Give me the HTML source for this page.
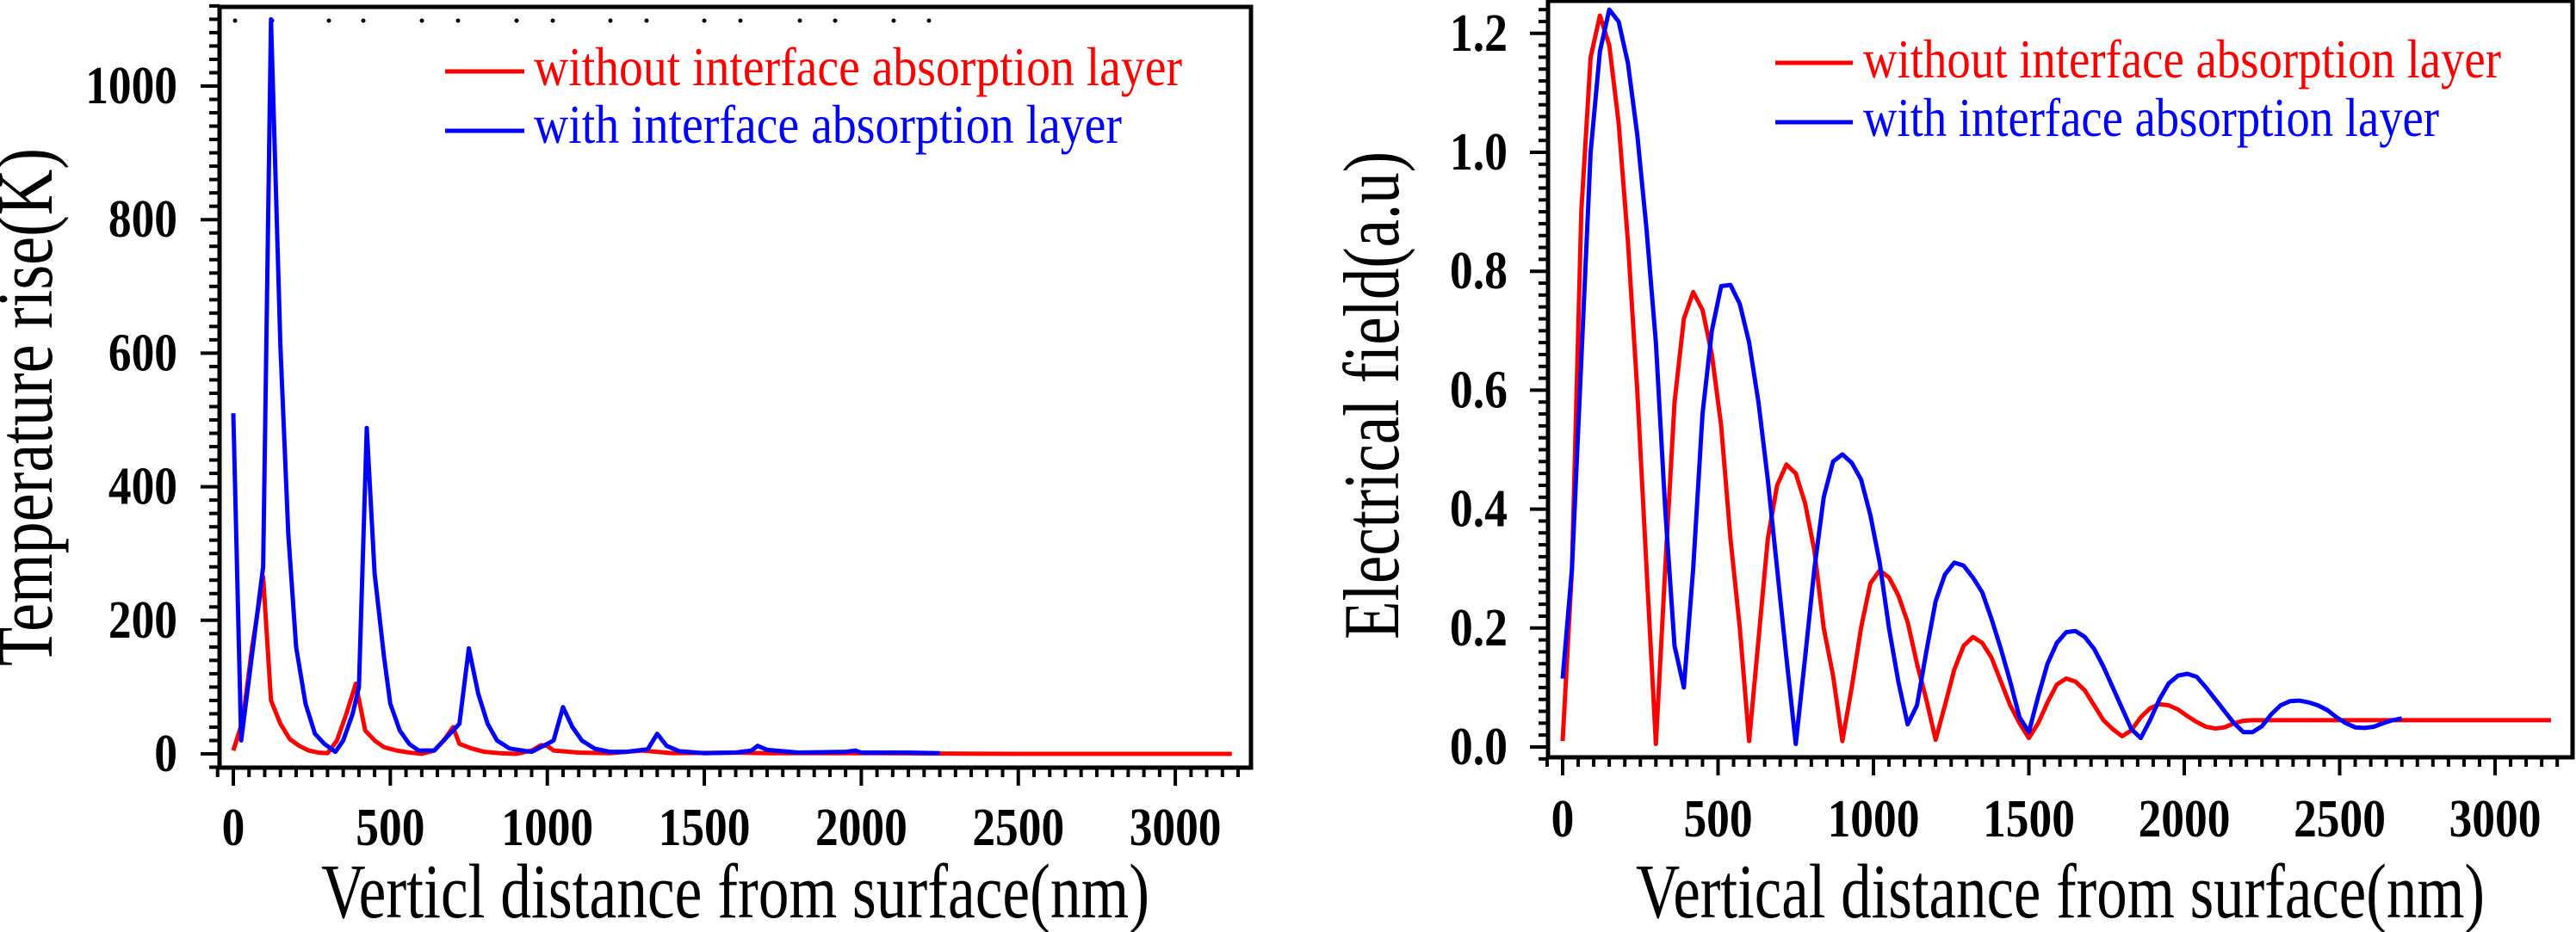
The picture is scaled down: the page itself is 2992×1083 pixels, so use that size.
<!DOCTYPE html>
<html><head><meta charset="utf-8"><style>
html,body{margin:0;padding:0;background:#fff;}
svg{display:block;}
text{font-family:"Liberation Serif",serif;}
</style></head><body>
<svg id="fig" width="2992" height="1083" viewBox="0 0 2992 1083" xmlns="http://www.w3.org/2000/svg">
<g id="left"></g>
<g id="right"></g>
</svg>
<script>
// ---- Left chart data ----
const tX_red = [0,30,60,95,120,150,180,210,240,270,300,330,360,390,420,450,480,520,560,600,640,670,700,720,760,800,850,900,950,980,1000,1020,1100,1200,1280,1300,1400,1600,1700,2000,2500,3000,3180];
const tY_red = [5,50,160,265,80,45,22,12,5,2,1,20,60,105,35,20,10,5,2,0,5,20,40,15,8,3,1,0,5,13,12,5,2,1,4,5,1,2,1,1,0,0,0];
const tX_blue = [0,25,60,95,120,150,175,200,230,260,290,325,350,380,400,425,450,480,500,530,560,590,640,690,720,750,780,810,840,880,950,1000,1020,1050,1080,1110,1150,1200,1250,1320,1350,1380,1420,1500,1600,1650,1670,1700,1800,1950,1980,2000,2150,2250];
const tY_blue = [510,20,150,280,1100,610,330,160,75,30,15,3,20,60,100,488,270,145,75,35,15,5,5,30,45,158,90,45,20,8,3,15,20,70,40,20,8,3,3,7,30,12,4,1,2,5,12,6,2,3,5,2,2,1];
const tXTicks = [0,500,1000,1500,2000,2500,3000];
const tYTicks = [0,200,400,600,800,1000];

// ---- Right chart data ----
const eX = [0,30,60,90,120,150,180,210,240,270,300,330,360,390,420,450,480,510,540,570,600,630,660,690,720,750,780,810,840,870,900,930,960,990,1020,1050,1080,1110,1140,1170,1200,1230,1260,1290,1320,1350,1380,1410,1440,1470,1500,1530,1560,1590,1620,1650,1680,1710,1740,1770,1800,1830,1860,1890,1920,1950,1980,2010,2040,2070,2100,2130,2160,2190,2220,2250,2280,2310,2340,2370,2400,2430,2460,2490,2520,2550,2580,2610,2640,2670,2700];
const eY_red = [0.01,0.3,0.9,1.16,1.23,1.18,1.05,0.85,0.6,0.3,0.005,0.3,0.58,0.72,0.765,0.735,0.66,0.54,0.35,0.2,0.01,0.18,0.35,0.44,0.475,0.46,0.41,0.33,0.2,0.12,0.01,0.1,0.2,0.275,0.297,0.285,0.255,0.21,0.14,0.08,0.012,0.07,0.13,0.17,0.185,0.175,0.15,0.11,0.07,0.04,0.015,0.04,0.075,0.105,0.115,0.11,0.095,0.07,0.045,0.03,0.018,0.028,0.05,0.065,0.072,0.07,0.063,0.052,0.042,0.034,0.031,0.033,0.04,0.044,0.045,0.045,0.045,0.045,0.045,0.045,0.045,0.045,0.045,0.045,0.045,0.045,0.045,0.045,0.045,0.045,0.045];
const eRedTailX = [3180];
const eRedTailY = [0.045];
const eY_blue = [0.115,0.3,0.65,1.0,1.17,1.24,1.22,1.15,1.03,0.87,0.68,0.4,0.17,0.1,0.3,0.56,0.7,0.775,0.777,0.745,0.68,0.58,0.45,0.3,0.15,0.005,0.15,0.3,0.42,0.48,0.492,0.478,0.45,0.39,0.31,0.2,0.11,0.038,0.07,0.16,0.245,0.29,0.31,0.305,0.285,0.26,0.215,0.165,0.11,0.05,0.025,0.085,0.14,0.175,0.193,0.195,0.185,0.165,0.135,0.1,0.065,0.03,0.015,0.045,0.08,0.107,0.12,0.123,0.118,0.1,0.08,0.06,0.04,0.025,0.025,0.035,0.055,0.07,0.077,0.078,0.075,0.07,0.062,0.05,0.04,0.033,0.032,0.034,0.04,0.045,0.048];
const eXTicks = [0,500,1000,1500,2000,2500,3000];
const eYTicks = ["0.0","0.2","0.4","0.6","0.8","1.0","1.2"];

const NS = "http://www.w3.org/2000/svg";
function mk(parent, tag, attrs){
  const el = document.createElementNS(NS, tag);
  for (const k in attrs) el.setAttribute(k, attrs[k]);
  parent.appendChild(el);
  return el;
}
const TF = 62; // tick font size
function tw(s){ return s.length*26.7 - (s.indexOf('.')>=0 ? 13 : 0); }

// ===== LEFT =====
(function(){
  const g = document.getElementById('left');
  const X = v => 271 + v*0.3647;
  const Y = v => 876 - v*0.776;
  const L=255, R=1453, T=8, B=892;
  const fr = mk(g,'rect',{x:L,y:T,width:R-L,height:B-T,fill:'none',stroke:'#000','stroke-width':5});
  
  
  for (let v=-20; v<=1120; v+=20){
    const major = v%200===0 && v>=0 && v<=1000;
    const t = mk(g,'line',{x1:major?233:243,x2:L,y1:Y(v),y2:Y(v),stroke:'#000','stroke-width':4});
    
    
  }
  tYTicks.forEach(v=>{
    const s=String(v);
    const t = mk(g,'text',{x:206,y:Y(v)+20,'text-anchor':'end','font-size':TF,'font-weight':'bold',textLength:tw(s),lengthAdjust:'spacingAndGlyphs'});
    t.textContent = s;
    
    
  });
  for (let v=-50; v<=3200; v+=50){
    const major = v%500===0 && v>=0;
    const t = mk(g,'line',{x1:X(v),x2:X(v),y1:B,y2:major?913:903,stroke:'#000','stroke-width':4});
    
    
  }
  tXTicks.forEach(v=>{
    const s=String(v);
    const t = mk(g,'text',{x:X(v),y:982,'text-anchor':'middle','font-size':TF,'font-weight':'bold',textLength:tw(s),lengthAdjust:'spacingAndGlyphs'});
    t.textContent = s;
    
    
  });
  [273,316,382,422,490,532,600,642,709,751,818,860,929,970,1038,1079].forEach(x=>{
    const d = mk(g,'circle',{cx:x,cy:24,r:2.5,fill:'#000'});
    
    
  });
  const red = mk(g,'polyline',{points:tX_red.map((x,i)=>X(x)+','+Y(tY_red[i])).join(' '),fill:'none',stroke:'#f00','stroke-width':5,'stroke-linejoin':'round'});
  
  
  const blue = mk(g,'polyline',{points:tX_blue.map((x,i)=>X(x)+','+Y(tY_blue[i])).join(' '),fill:'none',stroke:'#00f','stroke-width':5,'stroke-linejoin':'round'});
  
  
  const l1 = mk(g,'line',{x1:517,x2:609,y1:83,y2:83,stroke:'#f00','stroke-width':5});
  
  
  const t1 = mk(g,'text',{x:620,y:99,'font-size':64,fill:'#f00',textLength:753,lengthAdjust:'spacingAndGlyphs'});
  t1.textContent='without interface absorption layer';
  
  
  const l2 = mk(g,'line',{x1:517,x2:609,y1:152,y2:152,stroke:'#00f','stroke-width':5});
  
  
  const t2 = mk(g,'text',{x:620,y:166,'font-size':64,fill:'#00f',textLength:683,lengthAdjust:'spacingAndGlyphs'});
  t2.textContent='with interface absorption layer';
  
  
  const xt = mk(g,'text',{x:373,y:1066,'font-size':90,textLength:962,lengthAdjust:'spacingAndGlyphs'});
  xt.textContent='Verticl distance from surface(nm)';
  
  
  const yt = mk(g,'text',{x:0,y:0,'font-size':92,textLength:602,lengthAdjust:'spacingAndGlyphs',transform:'translate(60,774) rotate(-90)'});
  yt.textContent='Temperature rise(K)';
  
  
})();

// ===== RIGHT =====
(function(){
  const g = document.getElementById('right');
  const X = v => 1815 + v*0.361;
  const Y = v => 868 - v*691;
  const L=1798, R=2988, T=1, B=880;
  const fr = mk(g,'rect',{x:L,y:T,width:R-L,height:B-T,fill:'none',stroke:'#000','stroke-width':5});
  
  
  for (let i=-1; i<=62; i++){
    const v=i*0.02;
    const major = i%10===0 && i>=0 && i<=60;
    const t = mk(g,'line',{x1:major?1777:1787,x2:L,y1:Y(v),y2:Y(v),stroke:'#000','stroke-width':4});
    
    
  }
  eYTicks.forEach(s=>{
    const t = mk(g,'text',{x:1751,y:Y(parseFloat(s))+20,'text-anchor':'end','font-size':TF,'font-weight':'bold',textLength:tw(s),lengthAdjust:'spacingAndGlyphs'});
    t.textContent = s;
    
    
  });
  for (let v=-50; v<=3200; v+=50){
    const major = v%500===0 && v>=0;
    const t = mk(g,'line',{x1:X(v),x2:X(v),y1:B,y2:major?901:891,stroke:'#000','stroke-width':4});
    
    
  }
  eXTicks.forEach(v=>{
    const s=String(v);
    const t = mk(g,'text',{x:X(v),y:972,'text-anchor':'middle','font-size':TF,'font-weight':'bold',textLength:tw(s),lengthAdjust:'spacingAndGlyphs'});
    t.textContent = s;
    
    
  });
  const rx = eX.concat(eRedTailX), ry = eY_red.concat(eRedTailY);
  const red = mk(g,'polyline',{points:rx.map((x,i)=>X(x)+','+Y(ry[i])).join(' '),fill:'none',stroke:'#f00','stroke-width':5,'stroke-linejoin':'round'});
  
  
  const blue = mk(g,'polyline',{points:eX.map((x,i)=>X(x)+','+Y(eY_blue[i])).join(' '),fill:'none',stroke:'#00f','stroke-width':5,'stroke-linejoin':'round'});
  
  
  const l1 = mk(g,'line',{x1:2062,x2:2152,y1:73,y2:73,stroke:'#f00','stroke-width':5});
  
  
  const t1 = mk(g,'text',{x:2164,y:90,'font-size':64,fill:'#f00',textLength:741,lengthAdjust:'spacingAndGlyphs'});
  t1.textContent='without interface absorption layer';
  
  
  const l2 = mk(g,'line',{x1:2062,x2:2152,y1:142,y2:142,stroke:'#00f','stroke-width':5});
  
  
  const t2 = mk(g,'text',{x:2164,y:158,'font-size':64,fill:'#00f',textLength:669,lengthAdjust:'spacingAndGlyphs'});
  t2.textContent='with interface absorption layer';
  
  
  const xt = mk(g,'text',{x:1900,y:1066,'font-size':90,textLength:986,lengthAdjust:'spacingAndGlyphs'});
  xt.textContent='Vertical distance from surface(nm)';
  
  
  const yt = mk(g,'text',{x:0,y:0,'font-size':92,textLength:567,lengthAdjust:'spacingAndGlyphs',transform:'translate(1624,743) rotate(-90)'});
  yt.textContent='Electrical field(a.u)';
  
  
})();
</script>
</body></html>
